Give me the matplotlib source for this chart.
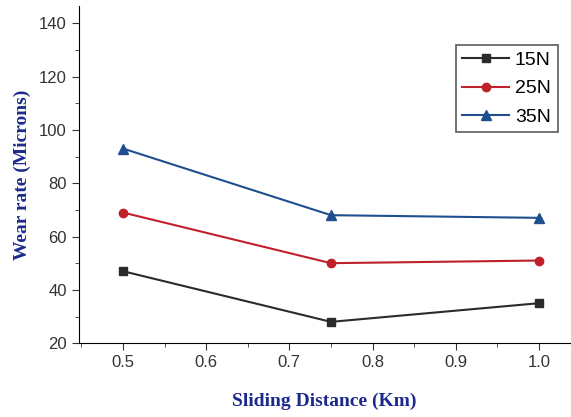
import matplotlib.pyplot as plt
from matplotlib.ticker import MultipleLocator

distancia = [0.5, 0.75, 1.0]
desgaste_15N = [47, 28, 35]
desgaste_25N = [69, 50, 51]
desgaste_35N = [93, 68, 67]

plt.rcParams['font.family'] = 'Liberation Sans'

fig = plt.figure(figsize=(5.71, 4.17), dpi=100)
ax = fig.add_axes([0.138, 0.177, 0.86, 0.809])

ax.plot(distancia, desgaste_15N, '-s', color='#2b2b2b', ms=6, lw=1.5, label='15N')
ax.plot(distancia, desgaste_25N, '-o', color='#c0202a', ms=6, lw=1.5, label='25N')
ax.plot(distancia, desgaste_35N, '-^', color='#1f4f8f', ms=7, lw=1.5, label='35N')

ax.set_xlim(0.447, 1.037)
ax.set_ylim(20, 146.5)
ax.xaxis.set_major_locator(MultipleLocator(0.1))
ax.xaxis.set_minor_locator(MultipleLocator(0.05))
ax.yaxis.set_major_locator(MultipleLocator(20))
ax.yaxis.set_minor_locator(MultipleLocator(10))
ax.tick_params(which='both', direction='out', labelsize=12, colors='#333333')
ax.tick_params(which='major', length=5)
ax.tick_params(which='minor', length=3)
ax.spines['top'].set_visible(False)
ax.spines['right'].set_visible(False)

ax.set_xlabel('Sliding Distance (Km)', family='Liberation Serif', fontweight='bold',
              fontsize=14, color='#1c2a8c', labelpad=16)
ax.set_ylabel('Wear rate (Microns)', family='Liberation Serif', fontweight='bold',
              fontsize=14, color='#1c2a8c', labelpad=6)

leg = ax.legend(loc='upper right', bbox_to_anchor=(0.975, 0.885), fontsize=14,
                fancybox=False, edgecolor='#333333', handlelength=2.4,
                handletextpad=0.3, borderpad=0.35, labelspacing=0.55,
                borderaxespad=0)
leg.get_frame().set_linewidth(1.2)

fig.savefig('out.png', dpi=100)
